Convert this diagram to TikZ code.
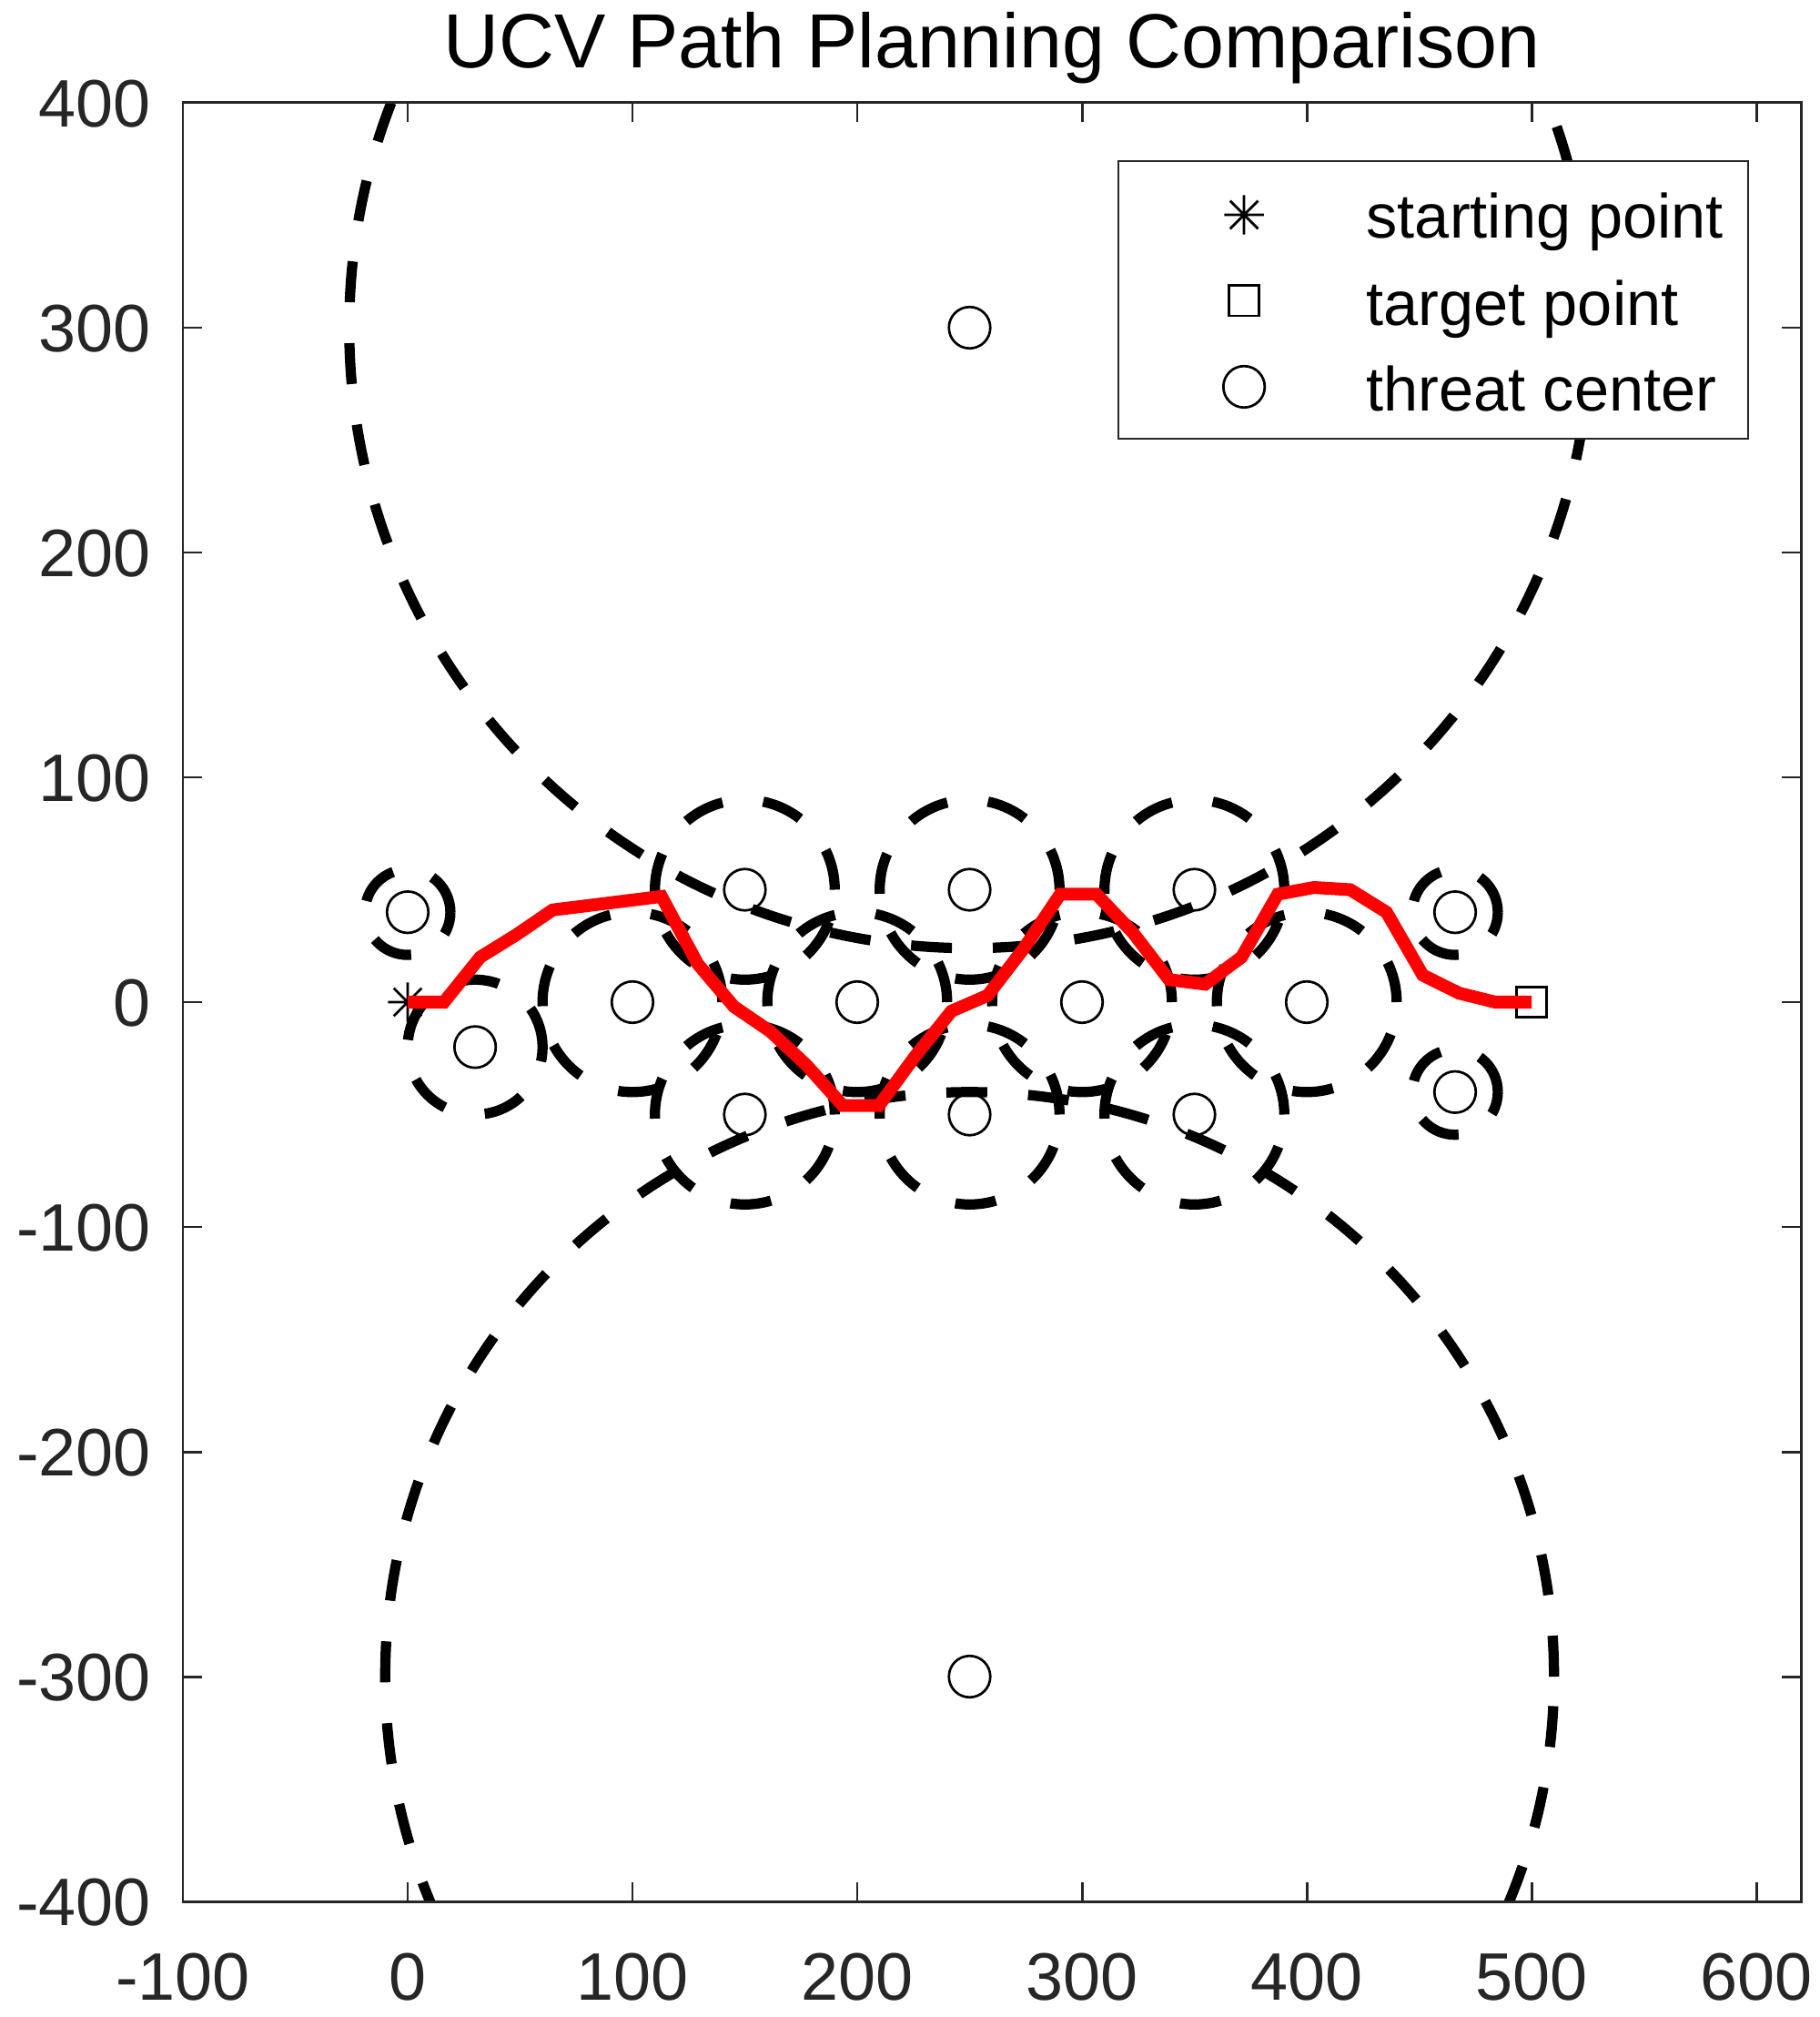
\documentclass[tikz,border=0pt]{standalone}
\usepackage{fontspec}
\setmainfont{Liberation Sans}
\definecolor{axgray}{HTML}{262626}
\tikzset{
  axisline/.style={draw=axgray, line width=0.85pt},
  tickmark/.style={draw=axgray, line width=0.85pt},
  ticklabel/.style={text=axgray, font=\fontsize{21pt}{25pt}\selectfont, inner sep=0pt},
  threatring/.style={draw=black, line width=3.2pt, dash pattern=on 12.8pt off 12.8pt},
  ringmark/.style={circle, draw=black, line width=0.77pt, minimum size=4.55mm, inner sep=0pt},
  sqmark/.style={rectangle, draw=black, line width=0.77pt, minimum size=3.35mm, inner sep=0pt},
  starnode/.style={circle, minimum size=4.2mm, inner sep=0pt},
  starline/.style={draw=black, line width=0.77pt},
  route/.style={draw=red, line width=4pt},
  legendbox/.style={draw=axgray, fill=white, line width=0.77pt, minimum width=6.92cm, minimum height=3.05cm, inner sep=0pt},
  legendtext/.style={font=\fontsize{19.5pt}{23pt}\selectfont, inner sep=0pt, anchor=base west},
}
\begin{document}
\begin{tikzpicture}[x=0.0247cm, y=0.0247cm]
\useasboundingbox (-181.377,-451.417) rectangle (628.340,445.749);
\node[font=\fontsize{24pt}{28pt}\selectfont, inner sep=0pt, anchor=base] (title) at (260,415.4) {UCV Path Planning Comparison};

% start and target markers
\node[starnode] (start) at (0,0) {};
\draw[starline] (start.east) -- (start.west) (start.north) -- (start.south)
  (start.north east) -- (start.south west) (start.north west) -- (start.south east);
\node[sqmark] (target) at (500,0) {};

% threat centre markers
\foreach \n/\cx/\cy in {t1/0/40, t2/30/-20, t3/100/0, t4/150/50, t5/150/-50, t6/200/0,
  t7/250/50, t8/250/-50, t9/300/0, t10/350/50, t11/350/-50, t12/400/0,
  t13/466/40, t14/466/-40, t15/250/300, t16/250/-300}
  { \node[ringmark] (\n) at (\cx,\cy) {}; }

% threat rings
\begin{scope}
\clip (-100,-400) rectangle (620,400);
\foreach \n/\r in {t1/19, t2/30, t3/40, t4/40, t5/40, t6/40, t7/40, t8/40, t9/40,
  t10/40, t11/40, t12/40, t13/19, t14/19, t15/276, t16/260}
  { \draw[threatring] (\n.center) circle[radius=\r]; }
\end{scope}

% planned route
\draw[route] (start.center) -- (16.13,0) -- (32.26,20) -- (48.39,30) -- (64.52,41)
  -- (80.65,43) -- (96.77,45) -- (112.90,47) -- (129.03,17) -- (145.16,-2)
  -- (161.29,-13) -- (177.42,-28) -- (193.55,-46) -- (209.68,-46) -- (225.81,-24)
  -- (241.94,-4) -- (258.06,3) -- (274.19,24) -- (290.32,48) -- (306.45,48)
  -- (322.58,31) -- (338.71,10) -- (354.84,8) -- (370.97,20) -- (387.10,48)
  -- (403.23,51) -- (419.35,50) -- (435.48,40) -- (451.61,12) -- (467.74,4)
  -- (483.87,0) -- (target.center);

% axes
\draw[axisline] (-100,-400) rectangle (620,400);
\foreach \x in {-100,0,...,600} {
  \draw[tickmark] (\x,-400) -- (\x,-391.5);
  \draw[tickmark] (\x,400) -- (\x,391.5);
  \node[ticklabel, anchor=base] (xl\x) at (\x,-444.1) {\x};
}
\foreach \y in {-400,-300,...,400} {
  \draw[tickmark] (-100,\y) -- (-91.5,\y);
  \draw[tickmark] (620,\y) -- (611.5,\y);
  \node[ticklabel, anchor=base east] (yl\y) at (-114,\y-10.9) {\y};
}

% legend
\node[legendbox] (legend) at (456.3,312.35) {};
\node[starnode] (lstar) at (372.1,350.2) {};
\draw[starline] (lstar.east) -- (lstar.west) (lstar.north) -- (lstar.south)
  (lstar.north east) -- (lstar.south west) (lstar.north west) -- (lstar.south east);
\node[sqmark] (lsq) at (372.1,312.1) {};
\node[ringmark] (lring) at (372.1,273.7) {};
\node[legendtext] (ltx1) at (426.3,339.7) {starting point};
\node[legendtext] (ltx2) at (426.3,301.2) {target point};
\node[legendtext] (ltx3) at (426.3,262.8) {threat center};
\end{tikzpicture}
\end{document}
